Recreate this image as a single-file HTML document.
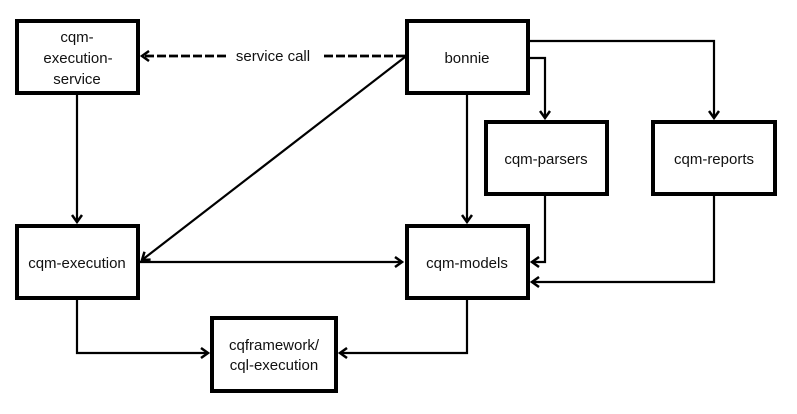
<!DOCTYPE html>
<html><head><style>
body{margin:0;background:#fff;}
svg text{font-family:"Liberation Sans",sans-serif;font-size:15px;fill:#111;}
</style></head><body>
<svg width="797" height="409" viewBox="0 0 797 409" xmlns="http://www.w3.org/2000/svg">
<defs>
<marker id="a" markerWidth="12" markerHeight="12" refX="9" refY="6" orient="auto" markerUnits="userSpaceOnUse">
<path d="M2,1 L9,6 L2,11" fill="none" stroke="#000" stroke-width="2.5"/>
</marker>
</defs>
<g fill="#fff" stroke="#000" stroke-width="4">
<rect x="17" y="21" width="121" height="72"/>
<rect x="17" y="226" width="121" height="72"/>
<rect x="407" y="21" width="121" height="72"/>
<rect x="486" y="122" width="121" height="72"/>
<rect x="653" y="122" width="122" height="72"/>
<rect x="407" y="226" width="121" height="72"/>
<rect x="212" y="318" width="124" height="73"/>
</g>
<g fill="none" stroke="#000" stroke-width="2.2">
<path d="M405,56 H322" stroke-dasharray="9,3" stroke-width="2.8"/>
<path d="M226,56 H142" stroke-dasharray="9,3" stroke-width="2.8" marker-end="url(#a)"/>
<path d="M77,94 V222" marker-end="url(#a)"/>
<path d="M405,57 L142,260" marker-end="url(#a)"/>
<path d="M140,262 H402" marker-end="url(#a)"/>
<path d="M467,94 V222" marker-end="url(#a)"/>
<path d="M530,41 H714 V118" marker-end="url(#a)"/>
<path d="M530,58 H545 V118" marker-end="url(#a)"/>
<path d="M545,196 V262 H532" marker-end="url(#a)"/>
<path d="M714,196 V282 H532" marker-end="url(#a)"/>
<path d="M77,300 V353 H208" marker-end="url(#a)"/>
<path d="M467,300 V353 H340" marker-end="url(#a)"/>
</g>
<g text-anchor="middle">
<text x="77" y="42">cqm-</text>
<text x="78" y="63">execution-</text>
<text x="77" y="84">service</text>
<text x="273" y="61">service call</text>
<text x="467" y="63">bonnie</text>
<text x="546" y="164">cqm-parsers</text>
<text x="714" y="164">cqm-reports</text>
<text x="77" y="268">cqm-execution</text>
<text x="467" y="268">cqm-models</text>
<text x="274" y="350">cqframework/</text>
<text x="274" y="370">cql-execution</text>
</g>
</svg>
</body></html>
